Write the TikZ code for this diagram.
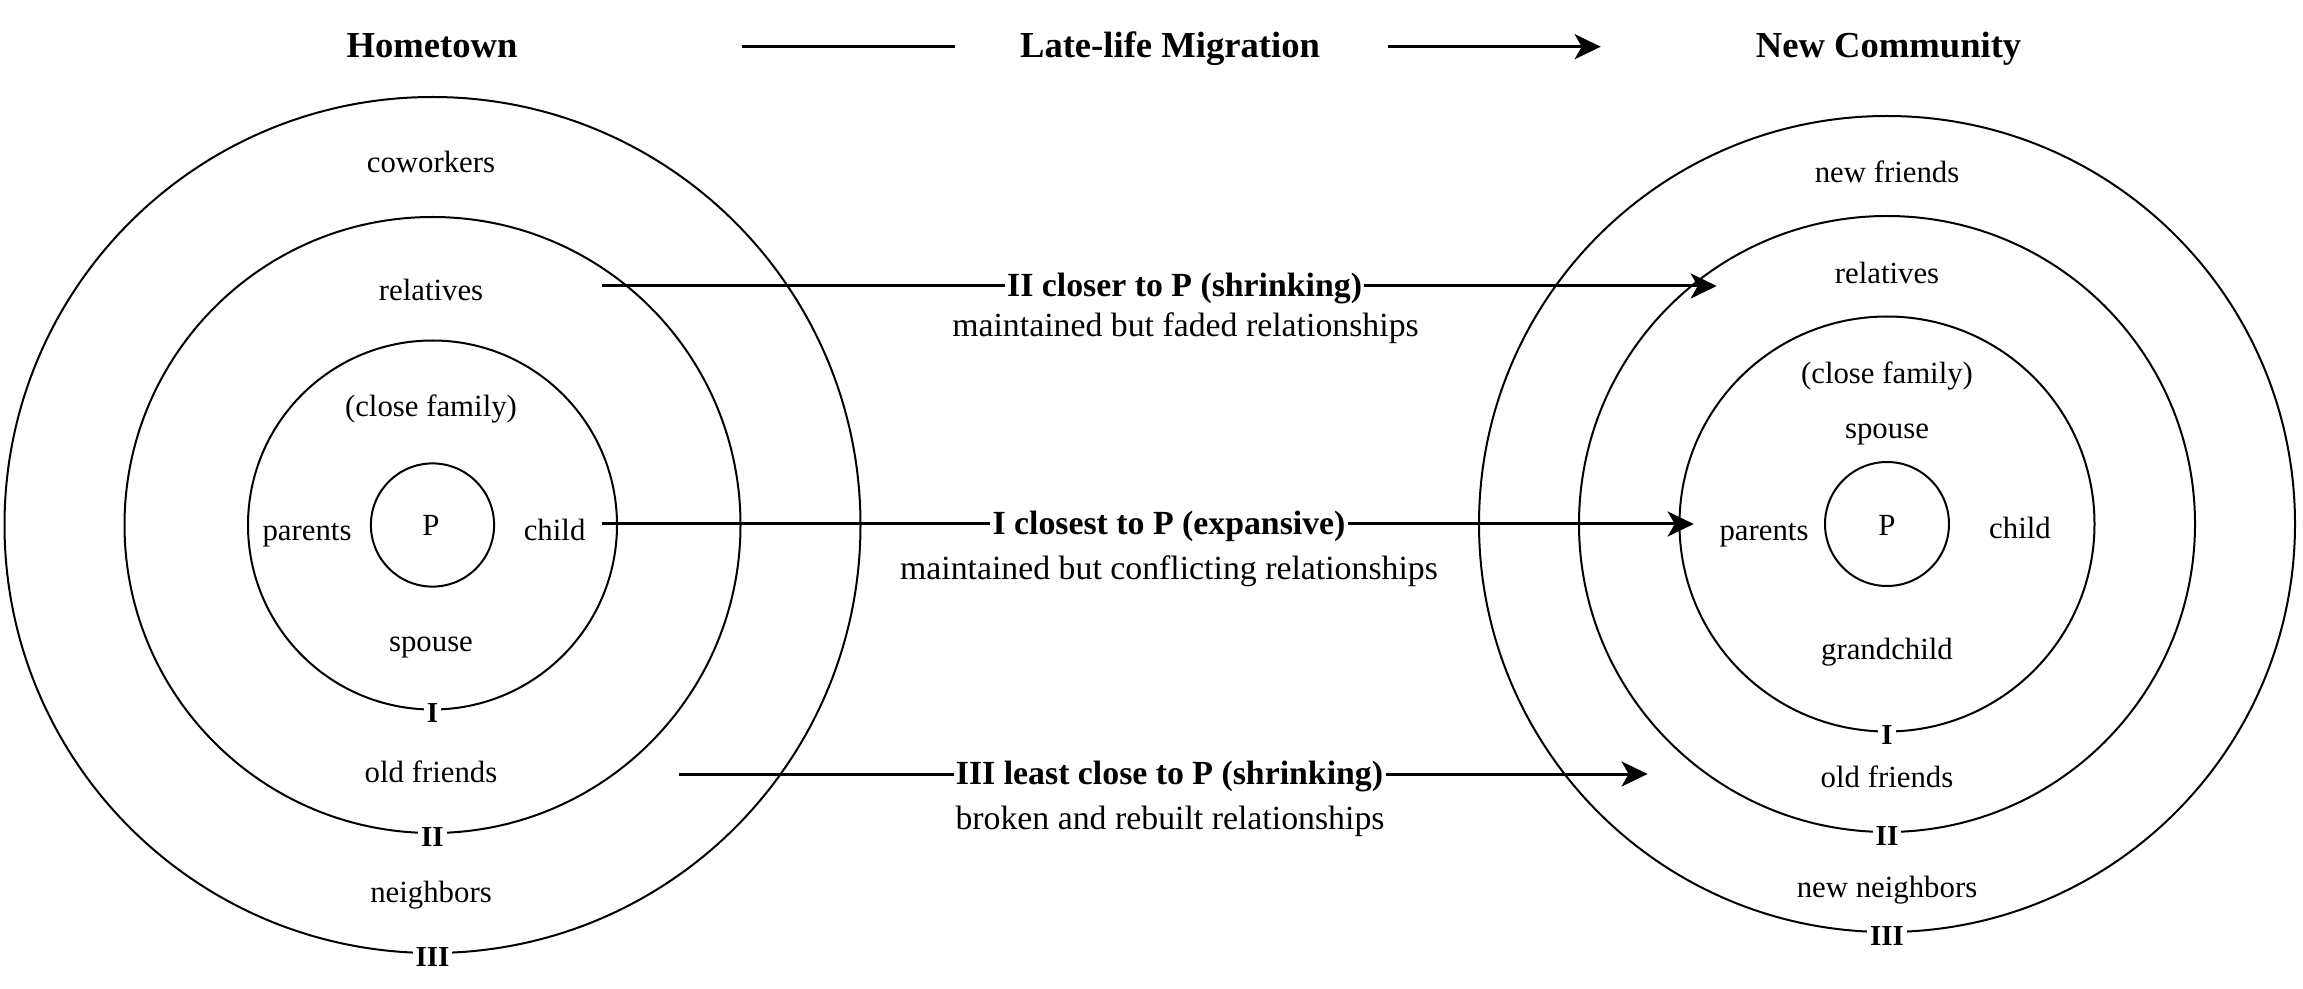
\documentclass[tikz,border=0pt]{standalone}
\usepackage{fontspec}
\setmainfont{Liberation Serif}
\usetikzlibrary{arrows.meta}
\begin{document}
\begin{tikzpicture}[x=0.5pt,y=-0.5pt,
  ring/.style={draw, circle, line width=1pt, inner sep=0pt},
  lab/.style={font=\fontsize{15.4}{18}\selectfont, inner sep=0pt, text height=13.5pt, text depth=3.4pt},
  num/.style={font=\fontsize{14.5}{16}\bfseries\selectfont, fill=white, inner xsep=1.5pt, inner ysep=0pt, text height=12.8pt, text depth=0.7pt},
  head/.style={font=\fontsize{18.3}{22}\bfseries\selectfont, inner sep=0pt, text height=16.6pt, text depth=4pt},
  mid/.style={font=\fontsize{16.9}{20}\bfseries\selectfont, inner xsep=1pt, inner ysep=1pt, text height=14.5pt, text depth=3.7pt},
  sub/.style={font=\fontsize{16.9}{20}\selectfont, inner sep=0pt, text height=14.5pt, text depth=3.7pt},
  conn/.style={line width=1.5pt},
  arr/.style={conn, -{Stealth[length=13pt,width=12.5pt,inset=3.5pt]}},
]
\useasboundingbox (0,0) rectangle (2303,989);

% ---------- header ----------
\node[head] (hometown) at (432,45) {Hometown};
\node[head] (migr) at (1170,45) {Late-life Migration};
\node[head] (newcom) at (1888.6,45) {New Community};
\coordinate (h1) at (741.6,46.7);
\coordinate (h2) at (954.6,46.7);
\coordinate (h3) at (1387.8,46.7);
\coordinate (h4) at (1600.7,46.7);
\draw[conn] (h1) -- (h2);
\draw[arr] (h3) -- (h4);

% ---------- left (hometown) ----------
\node[ring, minimum size=428pt] (L3) at (432.5,525) {};
\node[ring, minimum size=308pt] (L2) at (432.5,525) {};
\node[ring, minimum size=184.5pt] (L1) at (432.5,525) {};
\node[ring, minimum size=61.6pt] (LP) at (432.5,525) {};
\node[lab] (LPt) at (431,525) {P};
\node[lab] (lcow) at (431,162) {coworkers};
\node[lab] (lrel) at (431,290) {relatives};
\node[lab] (lclo) at (431,406) {(close family)};
\node[lab] (lpar) at (307,530) {parents};
\node[lab] (lchi) at (554.6,530) {child};
\node[lab] (lspo) at (431,641) {spouse};
\node[lab] (lold) at (431,772) {old friends};
\node[lab] (lnei) at (431,892) {neighbors};
\node[num] (lI) at (L1.south) {I};
\node[num] (lII) at (L2.south) {II};
\node[num] (lIII) at (L3.south) {III};

% ---------- right (new community) ----------
\node[ring, minimum size=408pt] (R3) at (1887,524) {};
\node[ring, minimum size=308pt] (R2) at (1887,524) {};
\node[ring, minimum size=207.5pt] (R1) at (1887,524) {};
\node[ring, minimum size=62pt] (RP) at (1887,524) {};
\node[lab] (RPt) at (1887,525) {P};
\node[lab] (rnf) at (1887,172) {new friends};
\node[lab] (rrel) at (1887,273) {relatives};
\node[lab] (rclo) at (1887,373) {(close family)};
\node[lab] (rspo) at (1887,428) {spouse};
\node[lab] (rpar) at (1764,530) {parents};
\node[lab] (rchi) at (2020,528) {child};
\node[lab] (rgra) at (1887,649) {grandchild};
\node[lab] (rold) at (1887,777) {old friends};
\node[lab] (rnn) at (1887,887) {new neighbors};
\node[num] (rI) at (R1.south) {I};
\node[num] (rII) at (R2.south) {II};
\node[num] (rIII) at (R3.south) {III};

% ---------- connectors ----------
\coordinate (a2s) at (602,286);
\coordinate (a2e) at (1716.7,286);
\node[mid] (m2) at (1184.6,286) {II closer to P (shrinking)};
\node[sub] (s2) at (1185.5,326) {maintained but faded relationships};
\draw[conn] (a2s) -- (m2);
\draw[arr] (m2) -- (a2e);

\coordinate (a1s) at (602,524);
\coordinate (a1e) at (1693.7,524);
\node[mid] (m1) at (1169,524) {I closest to P (expansive)};
\node[sub] (s1) at (1169,569) {maintained but conflicting relationships};
\draw[conn] (a1s) -- (m1);
\draw[arr] (m1) -- (a1e);

\coordinate (a3s) at (678.6,774);
\coordinate (a3e) at (1647.6,774);
\node[mid] (m3) at (1169.5,774) {III least close to P (shrinking)};
\node[sub] (s3) at (1170,818.5) {broken and rebuilt relationships};
\draw[conn] (a3s) -- (m3);
\draw[arr] (m3) -- (a3e);
\end{tikzpicture}
\end{document}
